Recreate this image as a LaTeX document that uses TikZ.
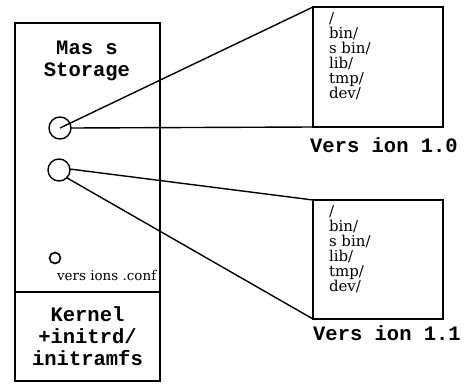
\documentclass[tikz,border=0pt]{standalone}
\usepackage{fontspec}
\setmainfont{DejaVu Serif}
\setmonofont{Liberation Mono}

\begin{document}
\begin{tikzpicture}
  [x=1pt, y=-1pt, line width=1.4pt,
   every node/.style={inner sep=0pt, outer sep=0pt},
   box/.style={draw, rectangle, anchor=north west},
   label text/.style={font=\fontsize{20.5}{22}\selectfont\ttfamily\bfseries},
   dir list/.style={font=\fontsize{15}{15}\selectfont, align=left, anchor=north west},
   slot/.style={draw, circle, minimum size=22pt}]
  \useasboundingbox (0,0) rectangle (465,383);
  % left column
  \node[box, minimum width=145pt, minimum height=269pt] (storage) at (15,23) {};
  \node[box, minimum width=145pt, minimum height=89pt, label text, align=center] (kernel) at (15,292)
     {Kernel\\[0pt]+initrd/\\[0pt]initramfs};
  \node[label text, align=center] (storagename) at (87,61) {Mas s\\[0pt]Storage};
  \node[slot] (first) at (60,128) {};
  \node[slot] (second) at (59,170) {};
  \node[draw, circle, minimum size=11pt, line width=1.6pt] (conf) at (55,258) {};
  \node[anchor=west, font=\fontsize{13.5}{14}\selectfont] (conftext) at (57,275) {vers ions .conf};
  % version trees
  \node[box, minimum width=130pt, minimum height=120pt] (old) at (313,7) {};
  \node[box, minimum width=130pt, minimum height=119pt] (new) at (313,200) {};
  \node[dir list] (oldtree) at (329,13) {/\\bin/\\s bin/\\lib/\\tmp/\\dev/};
  \node[dir list] (newtree) at (329,206) {/\\bin/\\s bin/\\lib/\\tmp/\\dev/};
  \node[label text] (oldname) at (384,145) {Vers ion 1.0};
  \node[label text] (newname) at (387,333) {Vers ion 1.1};
  % links
  \draw (first.center) -- (old.north west);
  \draw (first.east) -- (old.south west);
  \draw (second.5) -- (new.north west);
  \draw (second.-45) -- (new.south west);
\end{tikzpicture}
\end{document}
